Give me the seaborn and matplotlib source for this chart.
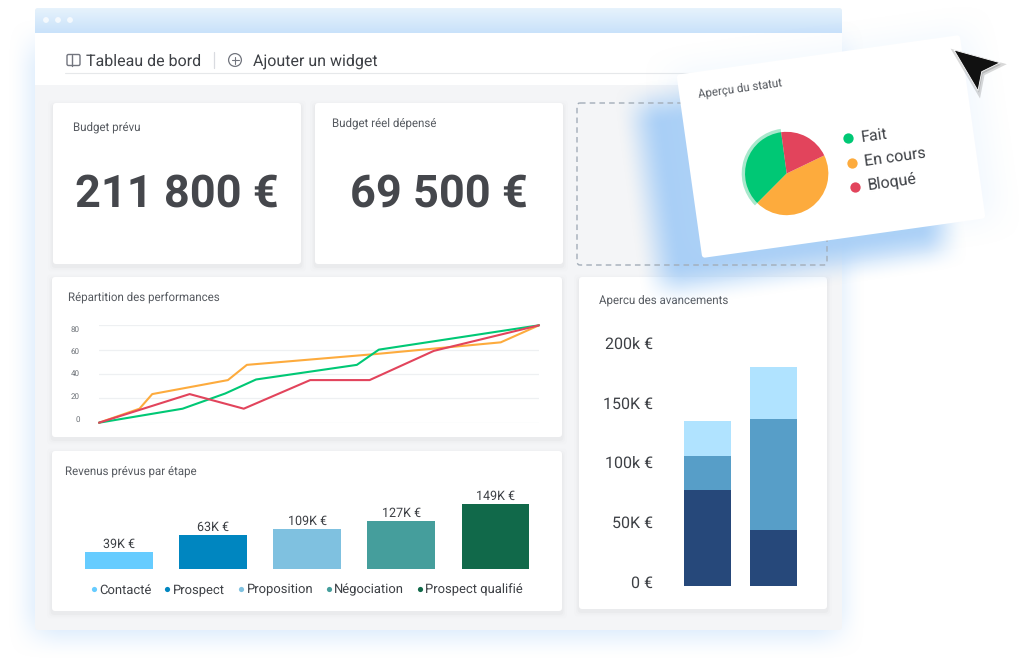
"""
Dashboard mock-up: budget cards, performance lines, revenue bars, status pie.
"""

import matplotlib

matplotlib.use("Agg")

import matplotlib.pyplot as plt
import numpy as np
import pandas as pd
import seaborn as sns
from matplotlib.patches import Circle, FancyBboxPatch, Polygon, Rectangle
from matplotlib.transforms import Affine2D, ScaledTranslation

W, H = 1024, 668

# performance lines (x in % of the axis width)
status_names = ["Fait", "En cours", "Bloqué"]
status_colors = ["#00c875", "#fdab3d", "#e2445c"]
green_x = [0, 19, 28.7, 35.7, 58.6, 63.6, 100]
green_y = [0, 11.5, 24, 35.5, 47.5, 60, 80]
orange_x = [0, 9.2, 12.1, 29.3, 33.6, 63.2, 91.3, 100]
orange_y = [0, 11.5, 23.5, 35, 47.5, 56.5, 66, 80]
red_x = [0, 9.2, 20.6, 32.9, 48, 61.5, 76.1, 100]
red_y = [0, 10.5, 23.5, 11.5, 35, 35, 59, 80]
perf_ticks = [0, 20, 40, 60, 80]

# revenue per stage
stages = ["Contacté", "Prospect", "Proposition", "Négociation", "Prospect qualifié"]
stage_levels = [17, 34, 40, 48, 65]
stage_labels = ["39K €", "63K €", "109K €", "127K €", "149K €"]
stage_colors = ["#66ccff", "#0086c0", "#7fc1e0", "#459e9c", "#11694a"]

# progress overview, stacked
progress_groups = ["A", "B"]
progress_low = [80, 47]
progress_mid = [29, 93]
progress_top = [29, 43]
progress_colors = ["#b0e3ff", "#579ec8", "#26487a"]
progress_ticks = [0, 50, 100, 150, 200]
progress_labels = ["0 €", "50K €", "100k €", "150K €", "200k €"]

# status pie
status_shares = [35.4, 44.6, 20]

TEXT = "#3d4045"
TITLE = "#565a60"

sns.set_theme(style="white")
plt.rcParams["font.family"] = ["Roboto", "DejaVu Sans"]
plt.rcParams["axes.facecolor"] = "none"
plt.rcParams["text.hinting"] = "no_hinting"

fig = plt.figure(figsize=(W / 100, H / 100), dpi=100, facecolor="white")


def px_axes(x0, y0, x1, y1, zorder=1):
    return fig.add_axes([x0 / W, 1 - y1 / H, (x1 - x0) / W, (y1 - y0) / H], zorder=zorder)


def canvas(zorder):
    ax = px_axes(0, 0, W, H, zorder)
    ax.axis("off")
    return ax


def lock(ax):
    ax.set_xlim(0, W)
    ax.set_ylim(H, 0)


def smooth(t):
    t = np.clip(t, 0, 1)
    return t * t * (3 - 2 * t)


def soft_box(ax, x0, y0, x1, y1, blur, color, alpha, angle=0):
    # blurred rectangle, optionally turned by angle degrees around its centre
    cx, cy = (x0 + x1) / 2, (y0 + y1) / 2
    half_w, half_h = (x1 - x0) / 2, (y1 - y0) / 2
    xs, ys = np.meshgrid(np.arange(W) + 0.5 - cx, np.arange(H) + 0.5 - cy)
    cos, sin = np.cos(np.radians(angle)), np.sin(np.radians(angle))
    u = xs * cos - ys * sin
    v = xs * sin + ys * cos
    img = np.zeros((H, W, 4))
    img[..., :3] = matplotlib.colors.to_rgb(color)
    img[..., 3] = (smooth((u + half_w) / blur + 0.5) * smooth((half_w - u) / blur + 0.5)
                   * smooth((v + half_h) / blur + 0.5) * smooth((half_h - v) / blur + 0.5)) * alpha
    ax.imshow(img, extent=(0, W, H, 0), aspect="auto", interpolation="bilinear")
    lock(ax)


def card(ax, x0, y0, x1, y1):
    for grow, a in [(5, 0.006), (3, 0.012), (1.5, 0.02)]:
        ax.add_patch(FancyBboxPatch((x0 - grow, y0 - grow + 2.5), x1 - x0 + 2 * grow, y1 - y0 + 2 * grow,
                                    boxstyle="round,pad=0,rounding_size=4", fc="black", ec="none", alpha=a))
    ax.add_patch(FancyBboxPatch((x0, y0), x1 - x0, y1 - y0, boxstyle="round,pad=0,rounding_size=3",
                                fc="white", ec="none"))


def shift_labels(ax, shifts):
    for label, dy in zip(ax.get_yticklabels(), shifts):
        label.set_transform(label.get_transform() + ScaledTranslation(0, dy / 100, fig.dpi_scale_trans))


# window chrome
base = canvas(0)
soft_box(base, 35, 45, 838, 632, 58, "#abd1f9", 0.62)
frame = FancyBboxPatch((35, 8), 807, 622, boxstyle="round,pad=0,rounding_size=3", fc="#f4f5f7", ec="none")
base.add_patch(frame)
base.add_patch(Rectangle((35, 33), 807, 52, fc="white", ec="none"))
grad_top = np.array(matplotlib.colors.to_rgb("#e6f2fc"))
grad_bottom = np.array(matplotlib.colors.to_rgb("#c9e2fa"))
grad = np.linspace(0, 1, 25)[:, None, None] * (grad_bottom - grad_top) + grad_top
title_bar = base.imshow(grad, extent=(35, 842, 33, 8), aspect="auto", zorder=1.5)
title_bar.set_clip_path(frame)
lock(base)
for cx in (46, 58, 70):
    base.add_patch(Circle((cx, 20), 2.9, fc="white", ec="none", alpha=0.75, zorder=3))

base.plot([65, 700], [73, 73], color="#e6e8ea", lw=0.8)
base.add_patch(FancyBboxPatch((67, 54.5), 13, 11, boxstyle="round,pad=0,rounding_size=1.5",
                              fc="none", ec="#72757e", lw=1))
base.plot([72, 72], [54.5, 65.5], color="#72757e", lw=1)
base.text(86, 61.5, "Tableau de bord", fontsize=11.5, color=TEXT, va="center")
base.plot([214, 214], [52, 68], color="#d9dbe0", lw=0.9)
base.add_patch(Circle((235, 60), 6.4, fc="none", ec="#72757e", lw=0.9))
base.plot([231.5, 238.5], [60, 60], color="#72757e", lw=0.8)
base.plot([235, 235], [56.5, 63.5], color="#72757e", lw=0.8)
base.text(253, 61.5, "Ajouter un widget", fontsize=11.5, color=TEXT, va="center")

card(base, 53, 103, 301, 264)
card(base, 315, 103, 563, 264)
card(base, 52, 277, 562, 437)
card(base, 52, 451, 562, 611)
card(base, 579, 277, 827, 609)

base.text(73, 127, "Budget prévu", fontsize=8.3, color=TITLE, va="center")
base.text(332, 123, "Budget réel dépensé", fontsize=8.3, color=TITLE, va="center")
base.text(177, 194.5, "211 800 €", fontsize=32.5, fontweight="bold", color="#45474c", ha="center", va="center")
base.text(439, 194.5, "69 500 €", fontsize=32.5, fontweight="bold", color="#45474c", ha="center", va="center")
base.text(68, 297, "Répartition des performances", fontsize=8.3, color=TITLE, va="center")
base.text(65, 471, "Revenus prévus par étape", fontsize=8.3, color=TITLE, va="center")
base.text(599, 300, "Apercu des avancements", fontsize=8.3, color=TITLE, va="center")

# legend of the revenue chart
for name, color, dot_x in zip(stages, stage_colors, (94.3, 167.3, 241.3, 328.7, 420)):
    base.scatter([dot_x], [589], s=14, color=color, linewidths=0)
    base.text(dot_x + 5.2, 593.5, name, fontsize=9.4, color=TEXT, va="baseline")
lock(base)

# performance lines
perf = pd.concat([
    pd.DataFrame({"x": orange_x, "y": orange_y, "status": "En cours"}),
    pd.DataFrame({"x": green_x, "y": green_y, "status": "Fait"}),
    pd.DataFrame({"x": red_x, "y": red_y, "status": "Bloqué"}),
])
ax_perf = px_axes(99, 325.3, 539, 422.7)
sns.lineplot(data=perf, x="x", y="y", hue="status", hue_order=["En cours", "Fait", "Bloqué"],
             palette=dict(zip(status_names, status_colors)), estimator=None, sort=False,
             legend=False, lw=1.5, ax=ax_perf)
ax_perf.set_xlim(0, 100)
ax_perf.set_ylim(0, 80)
ax_perf.set_yticks(perf_ticks)
ax_perf.set_xticks([])
ax_perf.set_xlabel("")
ax_perf.set_ylabel("")
ax_perf.yaxis.grid(True, color="#eef0f2", lw=0.9)
ax_perf.set_axisbelow(True)
ax_perf.tick_params(axis="y", length=0, pad=14, labelsize=5.8, labelcolor="#6b7076")
sns.despine(ax=ax_perf, left=True, bottom=True)
for line in ax_perf.get_lines():
    line.set_clip_on(False)
shift_labels(ax_perf, [4.2, 2.8, 0.8, -1.2, -3.5])

# revenue per stage
ax_rev = px_axes(72, 480, 542.5, 568.5)
sns.barplot(x=stages, y=stage_levels, hue=stages, palette=stage_colors, width=0.72, legend=False,
            saturation=1, linewidth=0, ax=ax_rev)
ax_rev.set_ylim(0, 88.5)
ax_rev.set_xlim(-0.5, 4.5)
for container, label in zip(ax_rev.containers, stage_labels):
    ax_rev.bar_label(container, labels=[label], fontsize=9, color=TEXT, padding=0.7)
ax_rev.set_xticks([])
ax_rev.set_yticks([])
ax_rev.set_xlabel("")
ax_rev.set_ylabel("")
sns.despine(ax=ax_rev, left=True, bottom=True)

# progress overview: tallest totals first, each shorter stack painted over it
ax_prog = px_axes(674, 335, 807, 585.7)
cumulative = np.cumsum([progress_low, progress_mid, progress_top], axis=0)
for heights, color in zip(cumulative[::-1], progress_colors):
    sns.barplot(x=progress_groups, y=heights, color=color, width=0.7, saturation=1, linewidth=0, ax=ax_prog)
ax_prog.set_xlim(-0.5, 1.5)
ax_prog.set_ylim(0, 210)
ax_prog.set_xticks([])
ax_prog.set_yticks(progress_ticks, progress_labels)
ax_prog.set_xlabel("")
ax_prog.set_ylabel("")
ax_prog.tick_params(axis="y", length=0, pad=15, labelsize=11.5, labelcolor=TEXT)
sns.despine(ax=ax_prog, left=True, bottom=True)
shift_labels(ax_prog, [4] * 5)

# floating glow, placeholder, rotated status card, cursor
top = canvas(2)
soft_box(top, 648, 84, 934, 269, 46, "#a3ccf6", 0.92, angle=8)
soft_box(top, 680, 50, 985, 240, 60, "#bcdcfa", 0.2, angle=8)
top.add_patch(FancyBboxPatch((577, 103), 250, 162, boxstyle="round,pad=0,rounding_size=3",
                             fc="none", ec="#a3adb8", lw=1, ls=(0, (4, 3))))
rot = Affine2D().rotate_deg_around(831, 146.5, -8) + top.transData
top.add_patch(FancyBboxPatch((688, 54), 286, 185, boxstyle="round,pad=0,rounding_size=3",
                             fc="white", ec="none", transform=rot))
top.text(699, 97, "Aperçu du statut", fontsize=8.3, color=TITLE, rotation=8, rotation_mode="anchor",
         ha="left", va="baseline")
for i, (name, color) in enumerate(zip(status_names, status_colors)):
    top.scatter([848.3 + 3.35 * i], [138.3 + 24.2 * i], s=55, color=color, linewidths=0)
    top.text(860.7 + 3.5 * i, 137.5 + 24 * i, name, fontsize=11.5, color=TEXT, rotation=8,
             rotation_mode="anchor", ha="left", va="center")
cursor = [(954, 50), (1000, 62.7), (981.7, 71.7), (978, 90.7)]
top.add_patch(Polygon([(x + 1, y + 2) for x, y in cursor], fc="black", ec="black", lw=3, alpha=0.15))
top.add_patch(Polygon(cursor, fc="#111111", ec="white", lw=0.6, joinstyle="round"))
lock(top)

# status pie
ax_pie = px_axes(786.7 - 46, 173.5 - 46, 786.7 + 46, 173.5 + 46, zorder=3)
ax_pie.pie([status_shares[0], 100 - status_shares[0]], colors=["#a8e8cc", "none"], radius=1.08,
           startangle=97.7, counterclock=True, wedgeprops={"linewidth": 0})
ax_pie.pie(status_shares, colors=status_colors, radius=1.0, startangle=97.7, counterclock=True,
           wedgeprops={"linewidth": 0})
ax_pie.set_xlim(-1.104, 1.104)
ax_pie.set_ylim(-1.104, 1.104)

fig.savefig("out.png", dpi=100)
